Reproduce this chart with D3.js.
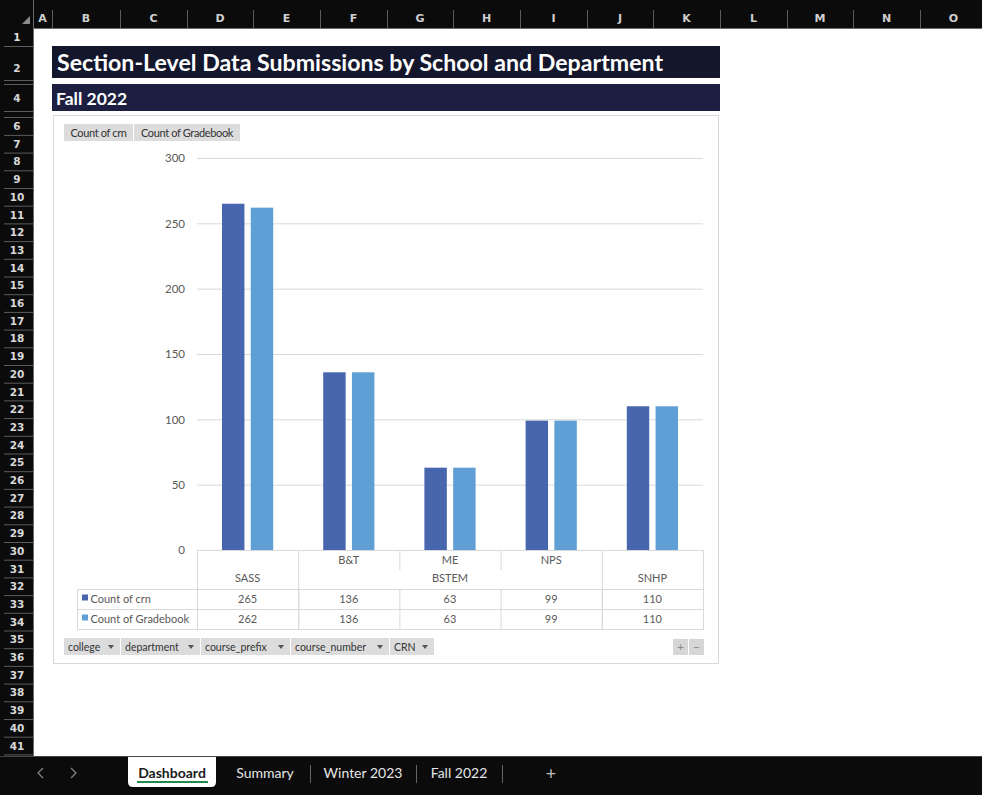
<!DOCTYPE html>
<html><head><meta charset="utf-8">
<script src="https://cdn.jsdelivr.net/npm/d3@7"></script>
<style>
html,body{margin:0;padding:0;background:#fff;}
svg{display:block;}
</style></head>
<body>
<svg id="c" width="982" height="795"></svg>
<script>
// ---- data ----
const colleges = ["SASS","BSTEM","BSTEM","BSTEM","SNHP"];
const departments = ["","B&T","ME","NPS",""];
const countCrn = [265,136,63,99,110];
const countGradebook = [262,136,63,99,110];
const seriesNames = ["Count of crn","Count of Gradebook"];
const seriesColors = ["#4866ae","#5f9fd5"];
const yTicks = [0,50,100,150,200,250,300];
const title = "Section-Level Data Submissions by School and Department";
const subtitle = "Fall 2022";
const columnLetters = ["A","B","C","D","E","F","G","H","I","J","K","L","M","N","O"];
const rowFilterButtons = ["college","department","course_prefix","course_number","CRN"];
const sheetTabs = ["Dashboard","Summary","Winter 2023","Fall 2022"];

const FONT = "Lato, 'Open Sans', sans-serif";
const svg = d3.select("#c").style("font-family", FONT);

// ---- spreadsheet frame ----
svg.append("rect").attr("x",0).attr("y",0).attr("width",982).attr("height",795).attr("fill","#fff");
svg.append("rect").attr("x",0).attr("y",0).attr("width",982).attr("height",28).attr("fill","#0b0b0b");
svg.append("line").attr("x1",0).attr("x2",982).attr("y1",28.5).attr("y2",28.5).attr("stroke","#6a6a6a");
svg.append("rect").attr("x",0).attr("y",0).attr("width",33).attr("height",757).attr("fill","#0b0b0b");
svg.append("line").attr("x1",33.5).attr("x2",33.5).attr("y1",0).attr("y2",757).attr("stroke","#6a6a6a");
svg.append("path").attr("d","M22,24 L30,24 L30,16 Z").attr("fill","#8a8a8a");

const colBounds = [33,52,120,187,253,320,387,453,520,587,653,720,787,853,920,987];
columnLetters.forEach((L,i)=>{
  const x0=colBounds[i], x1=colBounds[i+1];
  svg.append("text").attr("x",(x0+x1)/2).attr("y",22).attr("text-anchor","middle")
    .attr("font-size",11).attr("font-weight","bold").attr("fill","#d0d0d0").attr("font-family","'DejaVu Sans', sans-serif").text(L);
  svg.append("line").attr("x1",x1+0.5).attr("x2",x1+0.5).attr("y1",10).attr("y2",28).attr("stroke","#5c5c5c");
});

const rowTops = [];
const special = {1:[28,46],2:[46,80],3:[80,84],4:[84,111],5:[111,117]};
for(let r=1;r<=41;r++){
  let t,b;
  if(special[r]){[t,b]=special[r];}
  else {t=117.2+(r-6)*17.7; b=t+17.7;}
  rowTops.push({r,t,b});
}
rowTops.forEach(({r,t,b})=>{
  svg.append("line").attr("x1",4).attr("x2",33).attr("y1",b+0.5).attr("y2",b+0.5).attr("stroke","#5c5c5c");
  if(b-t>8){
    const cy = r===2? 72 : (t+b)/2+4;
    svg.append("text").attr("x",17).attr("y",cy).attr("text-anchor","middle")
      .attr("font-size",10.5).attr("font-weight","bold").attr("fill","#d8d8d8").attr("font-family","'DejaVu Sans', sans-serif").text(r);
  }
});

// ---- title banners ----
svg.append("rect").attr("x",52).attr("y",46).attr("width",668).attr("height",32).attr("fill","#14162c");
svg.append("text").attr("x",57).attr("y",71).attr("font-size",22).attr("font-weight","bold").attr("fill","#fff")
  .attr("textLength",606).attr("lengthAdjust","spacingAndGlyphs").text(title);
svg.append("rect").attr("x",52).attr("y",84).attr("width",668).attr("height",27).attr("fill","#1c1f40");
svg.append("text").attr("x",56).attr("y",105).attr("font-size",17.5).attr("font-weight","bold").attr("fill","#fff").text(subtitle);

// ---- chart area ----
svg.append("rect").attr("x",53.5).attr("y",115.5).attr("width",665).attr("height",548).attr("fill","#fff").attr("stroke","#d9d9d9");

const topBtns = [{t:seriesNames[0],x:64,w:69},{t:seriesNames[1],x:134,w:106}];
topBtns.forEach(b=>{
  svg.append("rect").attr("x",b.x).attr("y",124).attr("width",b.w).attr("height",17).attr("fill","#dcdcdc");
  svg.append("text").attr("x",b.x+b.w/2).attr("y",136.5).attr("text-anchor","middle").attr("font-size",11)
    .attr("fill","#333").attr("letter-spacing","-0.35").text(b.t);
});

const plotL=197, plotR=703, plotT=158, plotB=550;
const y = d3.scaleLinear().domain([0,300]).range([plotB,plotT]);
const idx = d3.range(countCrn.length);
const x0 = d3.scaleBand().domain(idx).range([plotL,plotR]).paddingInner(0).paddingOuter(0);
const bw = x0.bandwidth();
const x1 = d3.scaleBand().domain([0,1]).range([bw*0.247,bw*0.753]).paddingInner(0.22);

const yAxis = d3.axisLeft(y).tickValues(yTicks).tickSize(-(plotR-plotL)).tickPadding(12);
const gy = svg.append("g").attr("transform",`translate(${plotL},0)`).call(yAxis);
gy.select(".domain").remove();
gy.selectAll(".tick line").attr("stroke","#d9d9d9");
gy.selectAll(".tick text").attr("font-size",11.5).attr("fill","#595959").attr("font-family",FONT);

const series = [countCrn,countGradebook];
series.forEach((vals,s)=>{
  svg.append("g").selectAll("rect").data(idx).join("rect")
    .attr("x",i=>x0(i)+x1(s)).attr("width",x1.bandwidth())
    .attr("y",i=>y(vals[i])).attr("height",i=>plotB-y(vals[i]))
    .attr("fill",seriesColors[s]);
});

// ---- data table ----
const tblL=77, rowDeptT=plotB, rowDeptB=570, rowColB=589, r1B=609, r2B=629;
const tc="#d9d9d9";
const tg = svg.append("g").attr("stroke",tc).attr("fill","none");
const hl=(x1_,x2_,yy)=>tg.append("line").attr("x1",x1_).attr("x2",x2_).attr("y1",yy+0.5).attr("y2",yy+0.5);
const vl=(xx,y1_,y2_)=>tg.append("line").attr("x1",xx+0.5).attr("x2",xx+0.5).attr("y1",y1_).attr("y2",y2_);
hl(plotL,plotR,rowDeptT);
hl(tblL,plotR,rowColB); hl(tblL,plotR,r1B); hl(tblL,plotR,r2B);
vl(tblL,rowColB,r2B+1);
vl(plotL,rowDeptT,r2B+1);
vl(plotR,rowDeptT,r2B+1);
const groups=[];
colleges.forEach((c,i)=>{
  if(groups.length && groups[groups.length-1].c===c) groups[groups.length-1].end=i;
  else groups.push({c,start:i,end:i});
});
groups.forEach((g,gi)=>{
  if(gi>0) vl(x0(g.start),rowDeptT,r2B+1);
  for(let i=g.start+1;i<=g.end;i++){ vl(x0(i),rowDeptT,rowDeptB); }
  const cx=(x0(g.start)+x0(g.end)+bw)/2;
  svg.append("text").attr("x",cx).attr("y",582).attr("text-anchor","middle").attr("font-size",11).attr("fill","#595959").text(g.c);
});
for(let i=1;i<idx.length;i++){ vl(x0(i),rowColB,r2B+1); }
idx.forEach(i=>{
  if(departments[i]) svg.append("text").attr("x",x0(i)+bw/2).attr("y",563.5).attr("text-anchor","middle").attr("font-size",11).attr("fill","#595959").text(departments[i]);
  svg.append("text").attr("x",x0(i)+bw/2).attr("y",602.5).attr("text-anchor","middle").attr("font-size",11).attr("fill","#595959").text(countCrn[i]);
  svg.append("text").attr("x",x0(i)+bw/2).attr("y",622.5).attr("text-anchor","middle").attr("font-size",11).attr("fill","#595959").text(countGradebook[i]);
});
seriesNames.forEach((n,s)=>{
  const yy = s===0?598.5:618.5;
  svg.append("rect").attr("x",82).attr("y",yy-4).attr("width",6).attr("height",6).attr("fill",seriesColors[s]);
  svg.append("text").attr("x",90.5).attr("y",yy+4).attr("font-size",11).attr("fill","#595959").text(n);
});

const btnX=[64,121,201,291,390,435];
rowFilterButtons.forEach((t,i)=>{
  const x=btnX[i], w=btnX[i+1]-x-1;
  svg.append("rect").attr("x",x).attr("y",638).attr("width",w).attr("height",17).attr("fill","#dcdcdc");
  svg.append("text").attr("x",x+4).attr("y",650.5).attr("font-size",10.5).attr("fill","#333").text(t);
  svg.append("path").attr("d",`M${x+w-12},645 l6,0 l-3,4 z`).attr("fill","#555");
});
[[673,"+"],[689,"−"]].forEach(([x,t])=>{
  svg.append("rect").attr("x",x).attr("y",639).attr("width",15).attr("height",16).attr("fill","#d6d6d6");
  svg.append("text").attr("x",x+7.5).attr("y",651).attr("text-anchor","middle").attr("font-size",12).attr("fill","#888").text(t);
});

// ---- sheet tab bar ----
svg.append("rect").attr("x",0).attr("y",757).attr("width",982).attr("height",38).attr("fill","#0b0b0b");
svg.append("line").attr("x1",0).attr("x2",982).attr("y1",756.5).attr("y2",756.5).attr("stroke","#444");
svg.append("path").attr("d","M43,768 L38,773 L43,778").attr("fill","none").attr("stroke","#888").attr("stroke-width",1.2);
svg.append("path").attr("d","M71,768 L76,773 L71,778").attr("fill","none").attr("stroke","#888").attr("stroke-width",1.2);
svg.append("path").attr("d","M128,757 L216,757 L216,782 Q216,787 211,787 L133,787 Q128,787 128,782 Z").attr("fill","#fff");
const tabX=[[172,"#1a1a1a"],[265,"#e6e6e6"],[363,"#e6e6e6"],[459,"#e6e6e6"]];
sheetTabs.forEach((t,i)=>{
  svg.append("text").attr("x",tabX[i][0]).attr("y",778).attr("text-anchor","middle").attr("font-size",14)
    .attr("font-weight",i===0?"bold":"normal").attr("fill",tabX[i][1]).text(t);
});
svg.append("rect").attr("x",137).attr("y",781).attr("width",71).attr("height",2).attr("fill","#1f8a4c");
[310,416,502].forEach(x=>svg.append("line").attr("x1",x+0.5).attr("x2",x+0.5).attr("y1",765).attr("y2",783).attr("stroke","#666"));
svg.append("text").attr("x",551).attr("y",780).attr("text-anchor","middle").attr("font-size",18).attr("fill","#bbb").text("+");
</script>
</body></html>
